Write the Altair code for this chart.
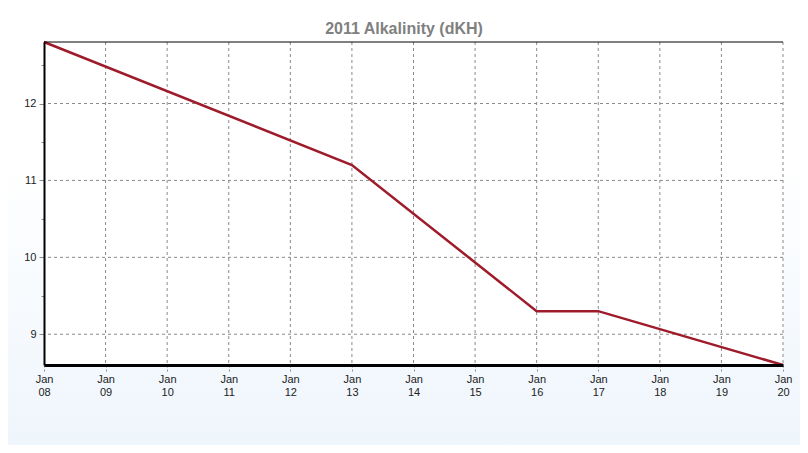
import altair as alt
import pandas as pd

# data
days = [8, 13, 16, 17, 20]
alkalinity = [12.8, 11.2, 9.3, 9.3, 8.6]
tick_days = list(range(8, 21))
grid_days = list(range(9, 21))
y_ticks = [9, 9.5, 10, 10.5, 11, 11.5, 12, 12.5]
y_grid = [9, 10, 11, 12]

W, H = 739, 323
FONT = "Liberation Sans"
GRID = "#8a8a8a"

df = pd.DataFrame({"day": days, "alk": alkalinity})
xs = alt.Scale(domain=[8, 20], nice=False, zero=False)
ys = alt.Scale(domain=[8.6, 12.8], nice=False, zero=False)

x_axis = alt.Axis(
    values=tick_days, title=None, grid=False, zindex=1,
    labelExpr="['Jan', (datum.value < 10 ? '0' : '') + datum.value]",
    labelFont=FONT, labelFontSize=11, labelColor="#222222",
    labelLineHeight=13, labelPadding=1,
    domainColor="black", domainWidth=3,
    tickColor=GRID, tickDash=[2, 2], tickSize=7, labelFlush=False)

y_axis = alt.Axis(
    values=y_ticks, title=None, grid=False, zindex=1,
    labelExpr="datum.value % 1 == 0 ? format(datum.value, 'd') : ''",
    labelFont=FONT, labelFontSize=11, labelColor="#222222",
    labelPadding=3,
    domainColor="black", domainWidth=2,
    tickColor=GRID,
    tickSize={"condition": {"test": "datum.value % 1 != 0", "value": 3}, "value": 5})

bg = alt.Chart(alt.Data(values=[{}])).mark_rect(
    clip=False,
    color=alt.LinearGradient(
        gradient="linear",
        stops=[alt.GradientStop(color="#ffffff", offset=0.35),
               alt.GradientStop(color="#eef5fc", offset=1)],
        x1=0, x2=0, y1=0, y2=1),
).encode(x=alt.value(-44), x2=alt.value(808 - 44),
         y=alt.value(-42), y2=alt.value(453 - 42))

plot_bg = alt.Chart(alt.Data(values=[{}])).mark_rect(color="white").encode(
    x=alt.value(0), x2=alt.value(W), y=alt.value(0), y2=alt.value(H))

vgrid = alt.Chart(pd.DataFrame({"day": grid_days})).mark_rule(
    color=GRID, strokeDash=[3, 3], strokeWidth=1).encode(
    x=alt.X("day:Q", scale=xs, axis=x_axis))

hgrid = alt.Chart(pd.DataFrame({"alk": y_grid})).mark_rule(
    color=GRID, strokeDash=[3, 3], strokeWidth=1).encode(
    y=alt.Y("alk:Q", scale=ys, axis=y_axis))

line = alt.Chart(df).mark_line(color="#9e1b2b", strokeWidth=2.5, clip=False).encode(
    x=alt.X("day:Q", scale=xs, axis=x_axis),
    y=alt.Y("alk:Q", scale=ys, axis=y_axis),
)

top = alt.Chart(alt.Data(values=[{}])).mark_rule(color="black", strokeWidth=1).encode(
    x=alt.value(0), x2=alt.value(W), y=alt.value(0))

chart = alt.layer(bg, plot_bg, vgrid, hgrid, line, top).properties(
    width=W, height=H,
    title=alt.TitleParams("2011 Alkalinity (dKH)", font=FONT, fontSize=16,
                          fontWeight="bold", color="#808080", anchor="middle",
                          frame="bounds", offset=-37),
    autosize=alt.AutoSizeParams(type="none"),
    padding={"left": 36, "top": 34, "right": 17, "bottom": 80},
).configure_view(stroke=None)

chart.save("out.html", embed_options={"renderer": "svg", "actions": False})
